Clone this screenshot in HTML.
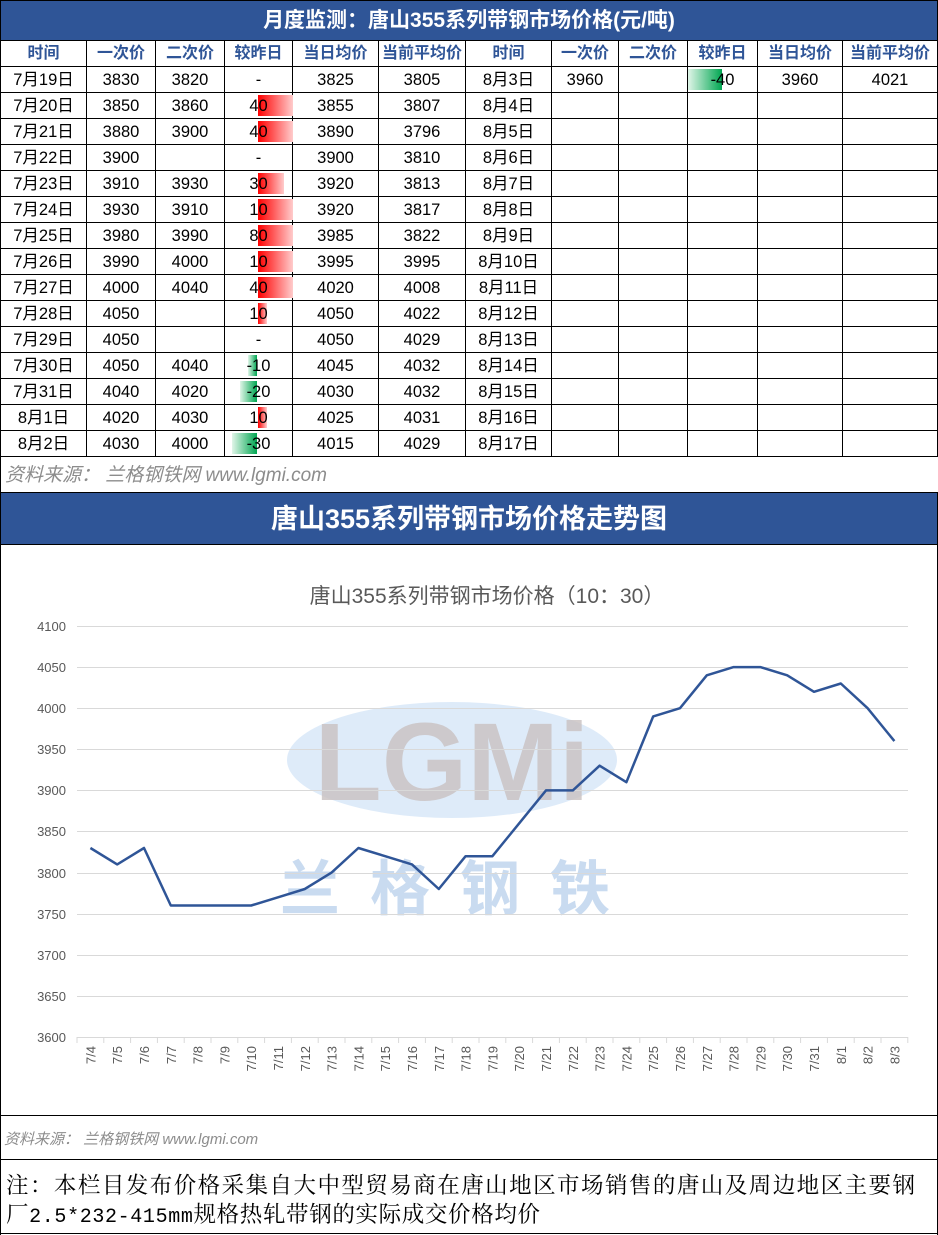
<!DOCTYPE html><html><head><meta charset="utf-8"><style>
body{margin:0;width:938px;height:1235px;position:relative;background:#fff;font-family:"Liberation Sans","Noto Sans CJK SC",sans-serif;overflow:hidden}
.bar{position:absolute;background:#2f5597;color:#fff;font-weight:bold;text-align:center;left:0;width:938px;box-sizing:border-box;border:1px solid #000}
table{position:absolute;left:0;top:40px;border-collapse:collapse;table-layout:fixed}
td{border:1px solid #000;height:25px;padding:0;text-align:center;font-size:16.5px;position:relative;line-height:22px}
tr.h td{color:#2f5597;font-weight:bold;font-size:16px}
.r,.g{position:absolute;top:2px;height:21px}
.r{left:33px;background:linear-gradient(90deg,#f00,#fcc)}
.g{right:35px;background:linear-gradient(270deg,#00a651,#e0f5e8)}
td span{position:relative}
</style></head><body>
<div class="bar" style="top:0;height:41px;line-height:40px;font-size:21px">月度监测：唐山355系列带钢市场价格(元/吨)</div>
<table>
<colgroup><col style="width:86px"><col style="width:69px"><col style="width:69px"><col style="width:68px"><col style="width:86px"><col style="width:87px"><col style="width:86px"><col style="width:67px"><col style="width:69px"><col style="width:70px"><col style="width:85px"><col style="width:95px"></colgroup>
<tr class="h"><td>时间</td><td>一次价</td><td>二次价</td><td>较昨日</td><td>当日均价</td><td>当前平均价</td><td>时间</td><td>一次价</td><td>二次价</td><td>较昨日</td><td>当日均价</td><td>当前平均价</td></tr>
<tr><td>7月19日</td><td>3830</td><td>3820</td><td>-</td><td>3825</td><td>3805</td><td>8月3日</td><td>3960</td><td></td><td><div class="g" style="width:34px"></div><span>-40</span></td><td>3960</td><td>4021</td></tr>
<tr><td>7月20日</td><td>3850</td><td>3860</td><td><div class="r" style="width:35px"></div><span>40</span></td><td>3855</td><td>3807</td><td>8月4日</td><td></td><td></td><td></td><td></td><td></td></tr>
<tr><td>7月21日</td><td>3880</td><td>3900</td><td><div class="r" style="width:35px"></div><span>40</span></td><td>3890</td><td>3796</td><td>8月5日</td><td></td><td></td><td></td><td></td><td></td></tr>
<tr><td>7月22日</td><td>3900</td><td></td><td>-</td><td>3900</td><td>3810</td><td>8月6日</td><td></td><td></td><td></td><td></td><td></td></tr>
<tr><td>7月23日</td><td>3910</td><td>3930</td><td><div class="r" style="width:26px"></div><span>30</span></td><td>3920</td><td>3813</td><td>8月7日</td><td></td><td></td><td></td><td></td><td></td></tr>
<tr><td>7月24日</td><td>3930</td><td>3910</td><td><div class="r" style="width:35px"></div><span>10</span></td><td>3920</td><td>3817</td><td>8月8日</td><td></td><td></td><td></td><td></td><td></td></tr>
<tr><td>7月25日</td><td>3980</td><td>3990</td><td><div class="r" style="width:35px"></div><span>80</span></td><td>3985</td><td>3822</td><td>8月9日</td><td></td><td></td><td></td><td></td><td></td></tr>
<tr><td>7月26日</td><td>3990</td><td>4000</td><td><div class="r" style="width:35px"></div><span>10</span></td><td>3995</td><td>3995</td><td>8月10日</td><td></td><td></td><td></td><td></td><td></td></tr>
<tr><td>7月27日</td><td>4000</td><td>4040</td><td><div class="r" style="width:35px"></div><span>40</span></td><td>4020</td><td>4008</td><td>8月11日</td><td></td><td></td><td></td><td></td><td></td></tr>
<tr><td>7月28日</td><td>4050</td><td></td><td><div class="r" style="width:9px"></div><span>10</span></td><td>4050</td><td>4022</td><td>8月12日</td><td></td><td></td><td></td><td></td><td></td></tr>
<tr><td>7月29日</td><td>4050</td><td></td><td>-</td><td>4050</td><td>4029</td><td>8月13日</td><td></td><td></td><td></td><td></td><td></td></tr>
<tr><td>7月30日</td><td>4050</td><td>4040</td><td><div class="g" style="width:9px"></div><span>-10</span></td><td>4045</td><td>4032</td><td>8月14日</td><td></td><td></td><td></td><td></td><td></td></tr>
<tr><td>7月31日</td><td>4040</td><td>4020</td><td><div class="g" style="width:17px"></div><span>-20</span></td><td>4030</td><td>4032</td><td>8月15日</td><td></td><td></td><td></td><td></td><td></td></tr>
<tr><td>8月1日</td><td>4020</td><td>4030</td><td><div class="r" style="width:9px"></div><span>10</span></td><td>4025</td><td>4031</td><td>8月16日</td><td></td><td></td><td></td><td></td><td></td></tr>
<tr><td>8月2日</td><td>4030</td><td>4000</td><td><div class="g" style="width:25px"></div><span>-30</span></td><td>4015</td><td>4029</td><td>8月17日</td><td></td><td></td><td></td><td></td><td></td></tr>
</table>
<div style="position:absolute;top:457px;left:0;width:936px;height:36px;border-left:1px solid #000;border-right:1px solid #000;font-style:italic;color:#8c8c8c;font-size:19px;line-height:38px;padding-left:4px">资料来源： 兰格钢铁网 www.lgmi.com</div>
<div class="bar" style="top:492px;height:53px;line-height:52px;font-size:27px">唐山355系列带钢市场价格走势图</div>
<svg width="938" height="1235" style="position:absolute;left:0;top:0" font-family="Liberation Sans, Noto Sans CJK SC, sans-serif">
<line x1="0.5" y1="545" x2="0.5" y2="1235" stroke="#000"/><line x1="937.5" y1="545" x2="937.5" y2="1235" stroke="#000"/>
<line x1="0" y1="1115.5" x2="938" y2="1115.5" stroke="#000"/><line x1="0" y1="1159.5" x2="938" y2="1159.5" stroke="#000"/><line x1="0" y1="1233.5" x2="938" y2="1233.5" stroke="#000"/>
<ellipse cx="452" cy="760" rx="165" ry="58" fill="#d6e6f7" opacity="0.8"/>
<text x="452" y="800" text-anchor="middle" font-size="110" font-weight="bold" fill="#c9c1c1" opacity="0.8">LGMi</text>
<text x="460" y="910" text-anchor="middle" font-size="60" font-weight="bold" fill="#c9dbf0" letter-spacing="30">兰格钢铁</text>
<text x="487" y="603" text-anchor="middle" font-size="21" fill="#595959">唐山355系列带钢市场价格（10：30）</text>
<g stroke="#d9d9d9" stroke-width="1">
<line x1="77" x2="908" y1="626.5" y2="626.5"/><line x1="77" x2="908" y1="667.5" y2="667.5"/><line x1="77" x2="908" y1="708.5" y2="708.5"/><line x1="77" x2="908" y1="749.5" y2="749.5"/><line x1="77" x2="908" y1="790.5" y2="790.5"/><line x1="77" x2="908" y1="831.5" y2="831.5"/><line x1="77" x2="908" y1="873.5" y2="873.5"/><line x1="77" x2="908" y1="914.5" y2="914.5"/><line x1="77" x2="908" y1="955.5" y2="955.5"/><line x1="77" x2="908" y1="996.5" y2="996.5"/><line x1="77" x2="908" y1="1037.5" y2="1037.5"/>
</g>
<g font-size="13" fill="#595959" text-anchor="end">
<text x="66" y="631">4100</text><text x="66" y="672">4050</text><text x="66" y="713">4000</text><text x="66" y="754">3950</text><text x="66" y="795">3900</text><text x="66" y="836">3850</text><text x="66" y="878">3800</text><text x="66" y="919">3750</text><text x="66" y="960">3700</text><text x="66" y="1001">3650</text><text x="66" y="1042">3600</text>
</g>
<g stroke="#d9d9d9" id="tk"></g>
<polyline fill="none" stroke="#2f5597" stroke-width="2.5" stroke-linejoin="round" points="90.4,848 117.2,864.4 144,848 170.8,905.5 197.6,905.5 224.4,905.5 251.2,905.5 278,897.3 304.8,889 331.6,872.6 358.4,848 385.2,856.2 412,864.4 438.8,889 465.6,856.2 492.4,856.2 519.2,823.3 546,790.4 572.8,790.4 599.6,765.7 626.4,782.2 653.2,716.4 680,708.2 706.8,675.3 733.6,667.1 760.4,667.1 787.2,675.3 814,691.8 840.8,683.5 867.6,708.2 894.4,741.1"/>
<g font-size="13" fill="#595959" text-anchor="end" id="xl"></g>
<text x="4" y="1144" font-size="15" font-style="italic" fill="#8c8c8c">资料来源： 兰格钢铁网 www.lgmi.com</text>
<text x="6" y="1193" font-size="22.5" fill="#000" font-family="Noto Serif CJK SC, serif" textLength="909" lengthAdjust="spacing">注：本栏目发布价格采集自大中型贸易商在唐山地区市场销售的唐山及周边地区主要钢</text>
<text x="6" y="1222" font-size="22.5" fill="#000" font-family="Noto Serif CJK SC, serif" textLength="534" lengthAdjust="spacing">厂<tspan font-family="Liberation Mono, monospace" font-size="20">2.5*232-415mm</tspan>规格热轧带钢的实际成交价格均价</text>
</svg>
<script>
var L=["7/4","7/5","7/6","7/7","7/8","7/9","7/10","7/11","7/12","7/13","7/14","7/15","7/16","7/17","7/18","7/19","7/20","7/21","7/22","7/23","7/24","7/25","7/26","7/27","7/28","7/29","7/30","7/31","8/1","8/2","8/3"];
var ns="http://www.w3.org/2000/svg",tk=document.getElementById("tk"),xl=document.getElementById("xl");
for(var i=0;i<=31;i++){var x=77+26.8*i,l=document.createElementNS(ns,"line");l.setAttribute("x1",x);l.setAttribute("x2",x);l.setAttribute("y1",1037);l.setAttribute("y2",1043);tk.appendChild(l);}
for(var i=0;i<31;i++){var x=90.4+26.8*i+5,t=document.createElementNS(ns,"text");t.setAttribute("transform","translate("+x+",1046) rotate(-90)");t.textContent=L[i];xl.appendChild(t);}
</script>
</body></html>
